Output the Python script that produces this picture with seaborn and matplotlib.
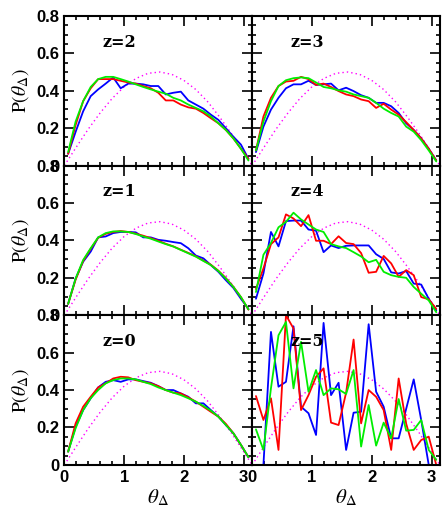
import numpy as np
import pandas as pd
import matplotlib
matplotlib.use("Agg")
import matplotlib.pyplot as plt
from matplotlib.ticker import MultipleLocator, FuncFormatter
import seaborn as sns

# centres des 25 classes en theta
theta = [0.063, 0.188, 0.314, 0.440, 0.565, 0.691, 0.817, 0.942, 1.068, 1.194,
         1.319, 1.445, 1.571, 1.696, 1.822, 1.948, 2.073, 2.199, 2.325, 2.450,
         2.576, 2.702, 2.827, 2.953, 3.079]

# courbe aleatoire (pointilles magenta)
theta_rand = [0.0, 0.2, 0.4, 0.6, 0.8, 1.0, 1.2, 1.4, 1.6, 1.8, 2.0, 2.2, 2.4,
              2.6, 2.8, 3.0, 3.14]
p_rand = [0.0, 0.099, 0.195, 0.282, 0.359, 0.421, 0.466, 0.493, 0.500, 0.487,
          0.455, 0.406, 0.340, 0.258, 0.168, 0.070, 0.0]

# z = 0
z0_red = [0.071, 0.222, 0.311, 0.364, 0.414, 0.436, 0.462, 0.471, 0.468, 0.453, 0.444, 0.436, 0.421,
          0.400, 0.386, 0.382, 0.361, 0.338, 0.311, 0.284, 0.258, 0.219, 0.169, 0.107, 0.041]
z0_blue = [0.071, 0.204, 0.293, 0.356, 0.414, 0.444, 0.453, 0.444, 0.457, 0.457, 0.448, 0.439, 0.421,
           0.400, 0.400, 0.382, 0.364, 0.329, 0.329, 0.293, 0.258, 0.213, 0.169, 0.107, 0.041]
z0_green = [0.071, 0.196, 0.293, 0.356, 0.400, 0.436, 0.453, 0.462, 0.462, 0.457, 0.444, 0.432, 0.414,
            0.400, 0.386, 0.373, 0.356, 0.338, 0.315, 0.290, 0.258, 0.213, 0.169, 0.107, 0.041]

# z = 1
z1_red = [0.061, 0.190, 0.290, 0.355, 0.414, 0.435, 0.445, 0.450, 0.445, 0.436, 0.425, 0.412, 0.398,
          0.382, 0.368, 0.350, 0.333, 0.315, 0.292, 0.270, 0.238, 0.198, 0.152, 0.097, 0.030]
z1_blue = [0.061, 0.196, 0.286, 0.340, 0.416, 0.421, 0.439, 0.445, 0.445, 0.443, 0.416, 0.416, 0.403,
           0.398, 0.391, 0.385, 0.358, 0.319, 0.304, 0.268, 0.232, 0.187, 0.146, 0.088, 0.034]
z1_green = [0.061, 0.196, 0.295, 0.358, 0.416, 0.439, 0.448, 0.448, 0.445, 0.434, 0.421, 0.409, 0.394,
            0.380, 0.367, 0.349, 0.331, 0.313, 0.290, 0.268, 0.236, 0.196, 0.151, 0.097, 0.031]

# z = 2
z2_red = [0.063, 0.217, 0.344, 0.413, 0.462, 0.462, 0.462, 0.453, 0.444, 0.438, 0.425, 0.413, 0.389,
          0.348, 0.348, 0.326, 0.311, 0.304, 0.281, 0.253, 0.226, 0.190, 0.145, 0.090, 0.036]
z2_blue = [0.063, 0.180, 0.290, 0.371, 0.407, 0.438, 0.471, 0.413, 0.438, 0.438, 0.434, 0.425, 0.425,
           0.380, 0.389, 0.395, 0.348, 0.326, 0.304, 0.272, 0.244, 0.199, 0.154, 0.112, 0.036]
z2_green = [0.072, 0.235, 0.344, 0.420, 0.462, 0.474, 0.474, 0.462, 0.449, 0.434, 0.420, 0.407, 0.395,
            0.384, 0.362, 0.348, 0.326, 0.308, 0.290, 0.262, 0.226, 0.190, 0.145, 0.090, 0.027]

# z = 3
z3_red = [0.081, 0.262, 0.362, 0.425, 0.449, 0.453, 0.474, 0.462, 0.431, 0.438, 0.420, 0.398, 0.380,
          0.371, 0.353, 0.344, 0.308, 0.330, 0.299, 0.272, 0.232, 0.190, 0.145, 0.090, 0.027]
z3_blue = [0.072, 0.208, 0.299, 0.362, 0.413, 0.434, 0.434, 0.453, 0.431, 0.434, 0.438, 0.402, 0.416,
           0.398, 0.376, 0.362, 0.335, 0.335, 0.317, 0.281, 0.226, 0.190, 0.145, 0.090, 0.027]
z3_green = [0.081, 0.235, 0.344, 0.425, 0.456, 0.467, 0.471, 0.467, 0.444, 0.420, 0.413, 0.402, 0.395,
            0.380, 0.371, 0.362, 0.335, 0.304, 0.281, 0.262, 0.208, 0.181, 0.136, 0.081, 0.022]

# z = 4
z4_red = [0.140, 0.250, 0.380, 0.416, 0.539, 0.517, 0.476, 0.535, 0.398, 0.398, 0.380, 0.422, 0.386,
          0.380, 0.332, 0.227, 0.232, 0.317, 0.277, 0.205, 0.241, 0.214, 0.097, 0.085, 0.034]
z4_blue = [0.088, 0.223, 0.445, 0.368, 0.503, 0.506, 0.506, 0.458, 0.452, 0.337, 0.373, 0.359, 0.371,
           0.373, 0.373, 0.373, 0.326, 0.301, 0.229, 0.223, 0.236, 0.169, 0.164, 0.088, 0.025]
z4_green = [0.124, 0.323, 0.386, 0.470, 0.499, 0.548, 0.512, 0.485, 0.458, 0.445, 0.380, 0.368, 0.359,
            0.337, 0.314, 0.283, 0.296, 0.232, 0.214, 0.205, 0.200, 0.151, 0.115, 0.079, 0.016]

# z = 5
z5_red = [0.368, 0.240, 0.356, 0.080, 0.800, 0.729, 0.293, 0.373, 0.471, 0.516, 0.226, 0.213, 0.386,
          0.670, 0.222, 0.400, 0.364, 0.293, 0.080, 0.462, 0.220, 0.080, 0.133, 0.151, 0.000]
z5_blue = [0.000, 0.000, 0.711, 0.418, 0.444, 0.741, 0.311, 0.276, 0.160, 0.759, 0.373, 0.439, 0.080,
           0.279, 0.284, 0.752, 0.391, 0.311, 0.142, 0.142, 0.300, 0.457, 0.240, 0.000, 0.000]
z5_green = [0.190, 0.080, 0.410, 0.693, 0.764, 0.409, 0.658, 0.391, 0.507, 0.373, 0.409, 0.404, 0.379,
            0.507, 0.098, 0.320, 0.103, 0.226, 0.142, 0.352, 0.183, 0.187, 0.240, 0.080, 0.027]

panels = {
    "z=2": (z2_red, z2_blue, z2_green),
    "z=3": (z3_red, z3_blue, z3_green),
    "z=1": (z1_red, z1_blue, z1_green),
    "z=4": (z4_red, z4_blue, z4_green),
    "z=0": (z0_red, z0_blue, z0_green),
    "z=5": (z5_red, z5_blue, z5_green),
}

sns.set_style("ticks")
plt.rcParams["font.family"] = ["Liberation Sans", "DejaVu Sans"]
plt.rcParams["mathtext.fontset"] = "stix"
for key in ["text.color", "axes.labelcolor", "xtick.color", "ytick.color", "axes.edgecolor"]:
    plt.rcParams[key] = "black"

fig, axes = plt.subplots(3, 2, figsize=(4.44, 5.12), dpi=100)
fig.subplots_adjust(left=0.145, right=0.991, top=0.969, bottom=0.092, hspace=0, wspace=0)

fmt_y = FuncFormatter(lambda v, p: "0" if abs(v) < 1e-9 else f"{v:.1f}")
fmt_x = FuncFormatter(lambda v, p: f"{v:.0f}")

for k, (label, (red, blue, green)) in enumerate(panels.items()):
    ax = axes[k // 2, k % 2]
    sns.lineplot(x=theta_rand, y=p_rand, ax=ax, color="#ff00ff", linewidth=1.0,
                 linestyle=(0, (1, 2.2)))
    sns.lineplot(x=theta, y=blue, ax=ax, color="#0000ff", linewidth=1.3)
    sns.lineplot(x=theta, y=red, ax=ax, color="#ff0000", linewidth=1.3)
    sns.lineplot(x=theta, y=green, ax=ax, color="#00ee00", linewidth=1.3)

    ax.set_xlim(0, np.pi)
    ax.set_ylim(0, 0.8)
    ax.xaxis.set_major_locator(MultipleLocator(1))
    ax.xaxis.set_minor_locator(MultipleLocator(0.2))
    ax.yaxis.set_major_locator(MultipleLocator(0.2))
    ax.yaxis.set_minor_locator(MultipleLocator(0.05))
    ax.tick_params(which="both", direction="in", top=True, right=True, width=1.2, color="black")
    ax.tick_params(which="major", length=7)
    ax.tick_params(which="minor", length=3.2)
    ax.tick_params(labelsize=12)
    for s in ax.spines.values():
        s.set_linewidth(1.5)
        s.set_color("black")

    ax.text(0.64, 0.66, label, fontsize=11.5, fontweight="bold", family="DejaVu Serif",
            ha="left", va="center")

    if k % 2 == 0:
        ax.yaxis.set_major_formatter(fmt_y)
        ax.set_ylabel(r"$\mathrm{P}(\theta_\Delta)$", fontsize=14, labelpad=4)
        for t in ax.get_yticklabels():
            t.set_fontweight("bold")
    else:
        ax.set_yticklabels([])
        ax.set_ylabel("")
    if k >= 4:
        ax.xaxis.set_major_formatter(fmt_x)
        ax.set_xlabel(r"$\theta_\Delta$", fontsize=15, labelpad=2)
        for t in ax.get_xticklabels():
            t.set_fontweight("bold")
    else:
        ax.set_xticklabels([])
        ax.set_xlabel("")

fig.savefig("out.png", dpi=100)
